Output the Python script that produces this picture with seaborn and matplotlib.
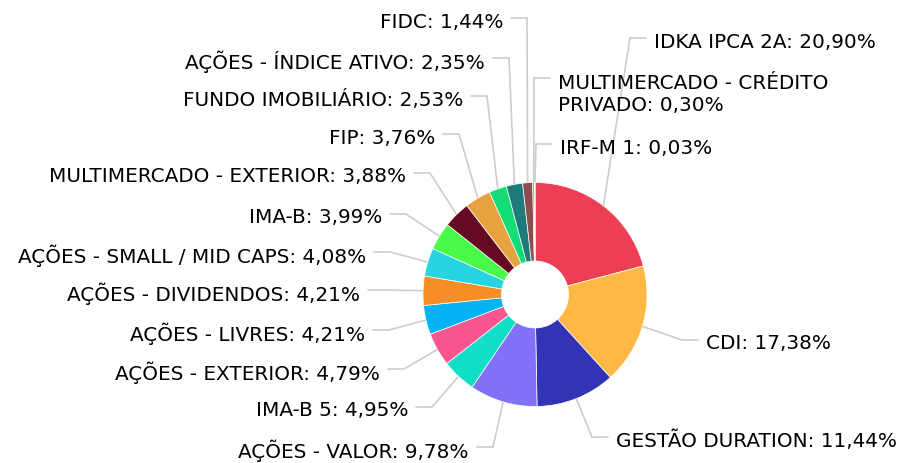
import matplotlib
matplotlib.use('Agg')
import matplotlib.pyplot as plt
import numpy as np
import seaborn as sns

sns.set_theme(style='white')
plt.rcParams['font.family'] = ['DejaVu Sans']

# Data
names = ['IDKA IPCA 2A', 'CDI', 'GESTÃO DURATION', 'AÇÕES - VALOR', 'IMA-B 5',
         'AÇÕES - EXTERIOR', 'AÇÕES - LIVRES', 'AÇÕES - DIVIDENDOS',
         'AÇÕES - SMALL / MID CAPS', 'IMA-B', 'MULTIMERCADO - EXTERIOR', 'FIP',
         'FUNDO IMOBILIÁRIO', 'AÇÕES - ÍNDICE ATIVO', 'FIDC',
         'MULTIMERCADO - CRÉDITO\nPRIVADO', 'IRF-M 1']
values = [20.90, 17.38, 11.44, 9.78, 4.95, 4.79, 4.21, 4.21, 4.08, 3.99,
          3.88, 3.76, 2.53, 2.35, 1.44, 0.30, 0.03]
colors = ['#EE3E53', '#FFB843', '#3333B5', '#8170F8', '#10DEC6', '#F95591',
          '#03B3F4', '#F58E26', '#27D4E2', '#48FB48', '#650A22', '#E6A23E',
          '#14DD78', '#1F7A7A', '#8B4D4D', '#F07060', '#D0D0D0']

# Label layout (pixels, origin top-left)
W, H = 902, 464
sides = ['R', 'R', 'R', 'L', 'L', 'L', 'L', 'L', 'L', 'L', 'L', 'L', 'L', 'L', 'L', 'R', 'R']
leader_y = [39, 341, 438, 448, 408, 370, 331, 291, 253, 215, 174, 135, 97, 59, 19, 79, 145]
elbow_x = [630, 682, 592, 493, 432, 404, 389, 384, 390, 406, 430, 459, 487, 509, 527, 534, 536]

fig = plt.figure(figsize=(W / 100, H / 100), dpi=100)
ax = fig.add_axes([0, 0, 1, 1])

wedges, _ = ax.pie(values, colors=colors, startangle=90, counterclock=False,
                   center=(535, H - 295.5), radius=112,
                   wedgeprops=dict(width=78.5, edgecolor='white', linewidth=0.5))
ax.set_xlim(0, W)
ax.set_ylim(0, H)
ax.set_aspect('equal')
ax.axis('off')

for w, name, v, side, ly, ex in zip(wedges, names, values, sides, leader_y, elbow_x):
    ang = np.deg2rad((w.theta1 + w.theta2) / 2)
    cx, cy = w.center
    sx, sy = cx + w.r * np.cos(ang), cy + w.r * np.sin(ang)
    ey = H - ly
    d = -1 if side == 'L' else 1
    ax.plot([sx, ex, ex + d * 16], [sy, ey, ey], color='#cccccc', lw=1.2,
            solid_joinstyle='miter', zorder=0)
    label = f'{name}: {v:.2f}%'.replace('.', ',')
    n_lines = label.count('\n') + 1
    ax.text(ex + d * 24, ey - 3 - (n_lines - 1) * 12.5, label,
            ha='right' if side == 'L' else 'left', va='center',
            fontsize=14.4, color='#000000', linespacing=1.25)

fig.savefig('out.png', dpi=100)
